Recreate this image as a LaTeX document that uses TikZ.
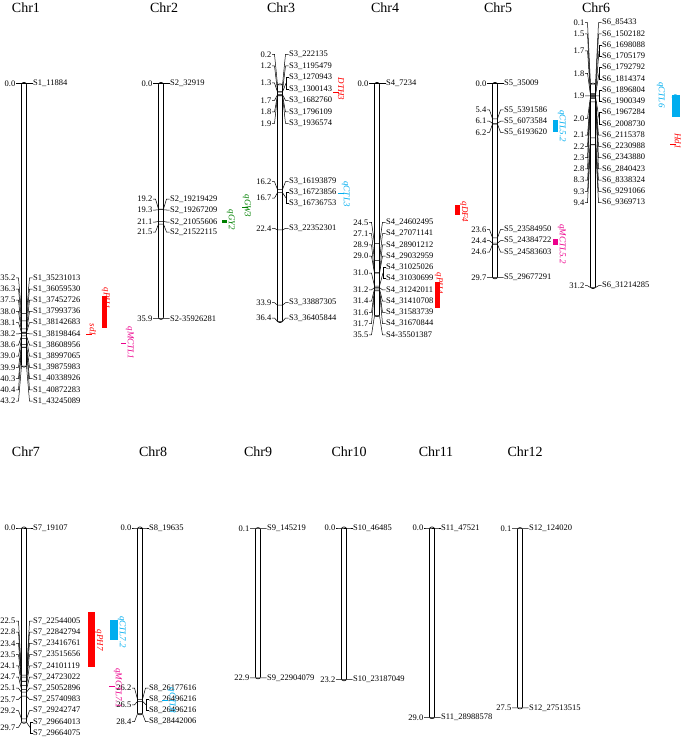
\documentclass[tikz,border=0pt]{standalone}
\usepackage{fontspec}
\setmainfont{Liberation Serif}
\newcounter{mk}
\def\ys{6.54}
\tikzset{
  numlbl/.style={anchor=east,inner sep=0.5pt,font=\fontsize{8.5}{9}\selectfont},
  namelbl/.style={anchor=west,inner sep=0.5pt,font=\fontsize{8.5}{9}\selectfont},
  conn/.style={line width=0.5pt},
  chrbar/.style={line width=0.6pt,rounded corners=2pt},
  chrtitle/.style={font=\fontsize{14}{14}\selectfont,inner sep=0pt},
  qtext/.style={rotate=-90,inner sep=0.5pt,font=\itshape\fontsize{9}{9}\selectfont},
}
% left number: cx, y0, cM, labelY, text
\newcommand\mkl[5]{%
  \stepcounter{mk}%
  \node[numlbl] (m\arabic{mk}) at (#1-8,#4) {#5};
  \draw[conn] (m\arabic{mk}.east) -- (#1-5.5,#4) -- (#1-2.5,{#2+\ys*#3}) -- (#1+2.5,{#2+\ys*#3});
}
% right name: cx, y0, cM, labelY, text
\newcommand\mkr[5]{%
  \stepcounter{mk}%
  \node[namelbl] (m\arabic{mk}) at (#1+8.5,#4) {#5};
  \draw[conn] (#1+2.5,{#2+\ys*#3}) -- (#1+5.5,#4) -- (m\arabic{mk}.west);
}
% pair of names: cx, y0, cM, ly1, ly2, name1, name2
\newcommand\mkp[7]{%
  \stepcounter{mk}%
  \node[namelbl] (m\arabic{mk}a) at (#1+8.5,#4) {#6};
  \node[namelbl] (m\arabic{mk}b) at (#1+8.5,#5) {#7};
  \draw[conn] (m\arabic{mk}a.west) -- (#1+6,#4) -- (#1+6,#5) -- (m\arabic{mk}b.west);
  \draw[conn] (#1+2.5,{#2+\ys*#3}) -- (#1+6,{(#4+#5)/2});
}
\newcommand\chrbar[4]{% cx, y0, cMtop, cMbot
  \draw[chrbar] (#1-2.5,{#2+\ys*#3-1}) rectangle (#1+2.5,{#2+\ys*#4+1});
}
\begin{document}
\begin{tikzpicture}[x=1pt,y=-1pt]
\useasboundingbox (0,0) rectangle (685,741);
% ---------------- Row 1 ----------------
\node[chrtitle] (t1) at (26,8) {Chr1};
\node[chrtitle] (t2) at (164,8) {Chr2};
\node[chrtitle] (t3) at (281,8) {Chr3};
\node[chrtitle] (t4) at (385,8) {Chr4};
\node[chrtitle] (t5) at (498,8) {Chr5};
\node[chrtitle] (t6) at (596,8) {Chr6};
% Chr1
\chrbar{24}{83.5}{0}{43.2}
\foreach \c/\l/\n/\s in {0.0/83.5/0.0/S1\_11884,35.2/277.8/35.2/S1\_35231013,36.3/289/36.3/S1\_36059530,37.5/300.2/37.5/S1\_37452726,38.0/311.4/38.0/S1\_37993736,38.1/322.6/38.1/S1\_38142683,38.2/333.8/38.2/S1\_38198464,38.6/345/38.6/S1\_38608956,39.0/356.2/39.0/S1\_38997065,39.9/367.4/39.9/S1\_39875983,40.3/378.6/40.3/S1\_40338926,40.4/389.8/40.4/S1\_40872283,43.2/401/43.2/S1\_43245089}
  {\mkl{24}{83.5}{\c}{\l}{\n}\mkr{24}{83.5}{\c}{\l}{\s}}
% Chr2
\chrbar{161}{83.5}{0}{35.9}
\foreach \c/\l/\n/\s in {0.0/83.5/0.0/S2\_32919,19.2/199/19.2/S2\_19219429,19.3/210/19.3/S2\_19267209,21.1/222/21.1/S2\_21055606,21.5/232/21.5/S2\_21522115,35.9/318.3/35.9/S2-35926281}
  {\mkl{161}{83.5}{\c}{\l}{\n}\mkr{161}{83.5}{\c}{\l}{\s}}
% Chr3
\chrbar{280}{83.5}{0.2}{36.4}
\foreach \c/\l/\n/\s in {0.2/54.3/0.2/S3\_222135,1.2/66/1.2/S3\_1195479,1.7/100.5/1.7/S3\_1682760,1.8/112/1.8/S3\_1796109,1.9/123.5/1.9/S3\_1936574,16.2/181.7/16.2/S3\_16193879,22.4/228.3/22.4/S3\_22352301,33.9/302.7/33.9/S3\_33887305,36.4/318/36.4/S3\_36405844}
  {\mkl{280}{83.5}{\c}{\l}{\n}\mkr{280}{83.5}{\c}{\l}{\s}}
\mkl{280}{83.5}{1.3}{83}{1.3}\mkp{280}{83.5}{1.3}{77.5}{89}{S3\_1270943}{S3\_1300143}
\mkl{280}{83.5}{16.7}{198}{16.7}\mkp{280}{83.5}{16.7}{192.5}{203.3}{S3\_16723856}{S3\_16736753}
% Chr4
\chrbar{377}{83.5}{0}{35.5}
\foreach \c/\l/\n/\s in {0.0/83.5/0.0/S4\_7234,24.5/222.3/24.5/S4\_24602495,27.1/233.6/27.1/S4\_27071141,28.9/244.8/28.9/S4\_28901212,29.0/256.1/29.0/S4\_29032959,31.2/289.9/31.2/S4\_31242011,31.4/301.1/31.4/S4\_31410708,31.6/312.4/31.6/S4\_31583739,31.7/323.6/31.7/S4\_31670844,35.5/334.9/35.5/S4-35501387}
  {\mkl{377}{83.5}{\c}{\l}{\n}\mkr{377}{83.5}{\c}{\l}{\s}}
\mkl{377}{83.5}{31.0}{273}{31.0}\mkp{377}{83.5}{31.0}{267.3}{278.6}{S4\_31025026}{S4\_31030699}
% Chr5
\chrbar{495}{83.5}{0}{29.7}
\foreach \c/\l/\n/\s in {0.0/83.5/0.0/S5\_35009,5.4/110/5.4/S5\_5391586,6.1/121.2/6.1/S5\_6073584,6.2/132.4/6.2/S5\_6193620,23.6/229.5/23.6/S5\_23584950,24.4/240.7/24.4/S5\_24384722,24.6/252/24.6/S5\_24583603,29.7/277.7/29.7/S5\_29677291}
  {\mkl{495}{83.5}{\c}{\l}{\n}\mkr{495}{83.5}{\c}{\l}{\s}}
% Chr6
\chrbar{593}{83.5}{0.1}{31.2}
\foreach \c/\l/\n/\s in {0.1/22.7/0.1/S6\_85433,1.5/33.95/1.5/S6\_1502182,2.1/135.2/2.1/S6\_2115378,2.2/146.45/2.2/S6\_2230988,2.3/157.7/2.3/S6\_2343880,2.8/168.95/2.8/S6\_2840423,8.3/180.2/8.3/S6\_8338324,9.3/191.45/9.3/S6\_9291066,9.4/202.7/9.4/S6\_9369713,31.2/285.7/31.2/S6\_31214285}
  {\mkl{593}{83.5}{\c}{\l}{\n}\mkr{593}{83.5}{\c}{\l}{\s}}
\mkl{593}{83.5}{1.7}{50.8}{1.7}\mkp{593}{83.5}{1.7}{45.2}{56.45}{S6\_1698088}{S6\_1705179}
\mkl{593}{83.5}{1.8}{73.3}{1.8}\mkp{593}{83.5}{1.8}{67.7}{78.95}{S6\_1792792}{S6\_1814374}
\mkl{593}{83.5}{1.9}{95.8}{1.9}\mkp{593}{83.5}{1.9}{90.2}{101.45}{S6\_1896804}{S6\_1900349}
\mkl{593}{83.5}{2.0}{118.3}{2.0}\mkp{593}{83.5}{2.0}{112.7}{123.95}{S6\_1967284}{S6\_2008730}
% QTL row 1
\fill[red] (102,296) rectangle (107,328);
\node[qtext,text=red,anchor=north] (q1a) at (110.5,298) {qPH1};
\draw[red,conn] (86,334.5) -- (92,334.5);
\node[qtext,text=red] (q1b) at (93,330) {sd1};
\draw[magenta,conn] (121,343) -- (126,343);
\node[qtext,text=magenta] (q1c) at (130,343) {qMCTL1};
\fill[green!50!black] (222,220) rectangle (227,223);
\node[qtext,text=green!50!black] (q2) at (231,220) {qGY2};
\draw[green!50!black,conn] (242,207) -- (248,207);
\node[qtext,text=green!50!black] (q3a) at (247,206) {qGW3};
\draw[red,conn] (333,92) -- (339,92);
\node[qtext,text=red] (q3b) at (341,89) {DTH3};
\draw[cyan,conn] (338,193) -- (344,193);
\node[qtext,text=cyan] (q3c) at (346,194) {qCTL3};
\fill[red] (435,282) rectangle (440,308);
\node[qtext,text=red,anchor=north] (q4a) at (443.5,283) {qPH4};
\fill[red] (455,205) rectangle (460,215);
\node[qtext,text=red] (q4b) at (464,212) {qDF4};
\fill[cyan] (553,120) rectangle (558,132);
\node[qtext,text=cyan] (q5a) at (562,126) {qCTL5.2};
\fill[magenta] (553,239) rectangle (558,245);
\node[qtext,text=magenta] (q5b) at (562,244) {qMCTL5.2};
\node[qtext,text=cyan] (q6a) at (661,95) {qCTL6};
\fill[cyan] (672,95) rectangle (680,117);
\node[qtext,text=cyan] (q6b) at (676,106) {qGW6};
\draw[red,conn] (670,144.5) -- (676,144.5);
\node[qtext,text=red] (q6c) at (678,141) {Hd1};
% ---------------- Row 2 ----------------
\node[chrtitle] (t7) at (26,452) {Chr7};
\node[chrtitle] (t8) at (153,452) {Chr8};
\node[chrtitle] (t9) at (258,452) {Chr9};
\node[chrtitle] (t10) at (349,452) {Chr10};
\node[chrtitle] (t11) at (436,452) {Chr11};
\node[chrtitle] (t12) at (525,452) {Chr12};
% Chr7
\chrbar{24}{528}{0}{29.7}
\foreach \c/\l/\n/\s in {0.0/528/0.0/S7\_19107,22.5/621/22.5/S7\_22544005,22.8/632.2/22.8/S7\_22842794,23.4/643.4/23.4/S7\_23416761,23.5/654.6/23.5/S7\_23515656,24.1/665.8/24.1/S7\_24101119,24.7/677/24.7/S7\_24723022,25.1/688.2/25.1/S7\_25052896,25.7/699.4/25.7/S7\_25740983,29.2/710.6/29.2/S7\_29242747}
  {\mkl{24}{528}{\c}{\l}{\n}\mkr{24}{528}{\c}{\l}{\s}}
\mkl{24}{528}{29.7}{727.4}{29.7}\mkp{24}{528}{29.7}{721.8}{733}{S7\_29664013}{S7\_29664075}
% Chr8
\chrbar{140}{528}{0}{28.4}
\foreach \c/\l/\n/\s in {0.0/528/0.0/S8\_19635,26.2/688/26.2/S8\_26177616,28.4/721.6/28.4/S8\_28442006}
  {\mkl{140}{528}{\c}{\l}{\n}\mkr{140}{528}{\c}{\l}{\s}}
\mkl{140}{528}{26.5}{704.8}{26.5}\mkp{140}{528}{26.5}{699.2}{710.4}{S8\_26496216}{S8\_26496216}
% Chr9
\chrbar{258}{528}{0.1}{22.9}
\foreach \c/\l/\n/\s in {0.1/528.6/0.1/S9\_145219,22.9/677.8/22.9/S9\_22904079}
  {\mkl{258}{528}{\c}{\l}{\n}\mkr{258}{528}{\c}{\l}{\s}}
% Chr10
\chrbar{344}{528}{0}{23.2}
\foreach \c/\l/\n/\s in {0.0/528/0.0/S10\_46485,23.2/679.7/23.2/S10\_23187049}
  {\mkl{344}{528}{\c}{\l}{\n}\mkr{344}{528}{\c}{\l}{\s}}
% Chr11
\chrbar{432}{528}{0}{29.0}
\foreach \c/\l/\n/\s in {0.0/528/0.0/S11\_47521,29.0/717.7/29.0/S11\_28988578}
  {\mkl{432}{528}{\c}{\l}{\n}\mkr{432}{528}{\c}{\l}{\s}}
% Chr12
\chrbar{520}{528}{0.1}{27.5}
\foreach \c/\l/\n/\s in {0.1/528.6/0.1/S12\_124020,27.5/707.9/27.5/S12\_27513515}
  {\mkl{520}{528}{\c}{\l}{\n}\mkr{520}{528}{\c}{\l}{\s}}
% QTL row 2
\fill[red] (88,612) rectangle (95,667);
\node[qtext,text=red] (q7a) at (99,640) {qPH7};
\fill[cyan] (110,620) rectangle (118,640);
\node[qtext,text=cyan] (q7b) at (122,632) {qCTL7.2};
\draw[magenta,conn] (109,686) -- (115,686);
\node[qtext,text=magenta] (q7c) at (118,688) {qMCTL7.1};
\draw[cyan,conn] (162,700) -- (168,700);
\node[qtext,text=cyan] (q8) at (172,700) {qCTL8};
\end{tikzpicture}
\end{document}
